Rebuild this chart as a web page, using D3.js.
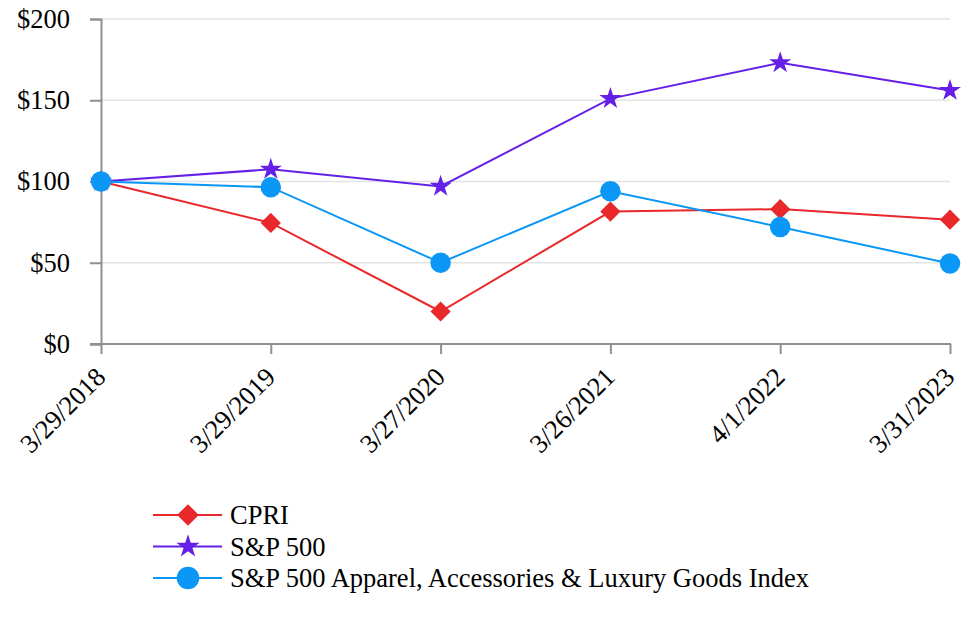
<!DOCTYPE html>
<html><head><meta charset="utf-8">
<script src="https://cdn.jsdelivr.net/npm/d3@7"></script>
<style>body{margin:0;background:#fff}svg{display:block}text{font-family:"Liberation Serif","Times New Roman",serif;fill:#000}</style>
</head><body><svg id="c" width="970" height="624"></svg>
<script>
const dates = ["3/29/2018","3/29/2019","3/27/2020","3/26/2021","4/1/2022","3/31/2023"];
const cpri = [100, 74.5, 20, 81.5, 83, 76.5];
const sp500 = [100, 107.5, 97, 151, 173, 156];
const apparel = [100, 96.5, 50, 94, 72, 49.5];
const seriesNames = ["CPRI","S&P 500","S&P 500 Apparel, Accessories & Luxury Goods Index"];
const yTicks = [0, 50, 100, 150, 200];

const colors = ["#e8282a", "#6420e6", "#0a97f5"];
const symbols = [d3.symbolDiamond2, d3.symbolStar, d3.symbolCircle];
const symSizes = [260, 150, 330];
const legSizes = [300, 170, 400];
const seriesData = [cpri, sp500, apparel];

const svg = d3.select("#c");
const x = d3.scalePoint().domain(dates).range([101, 950]);
const y = d3.scaleLinear().domain([0, 200]).range([344, 19]);

// gridlines
svg.append("g").selectAll("line").data(yTicks.filter(t => t > 0)).join("line")
  .attr("x1", 101).attr("x2", 950).attr("y1", d => y(d)).attr("y2", d => y(d))
  .attr("stroke", "#e3e3e3").attr("stroke-width", 1.5);

// y axis
const ya = svg.append("g").attr("transform", "translate(101,0)")
  .call(d3.axisLeft(y).tickValues(yTicks).tickFormat(d => "$" + d).tickSize(11).tickPadding(20));
ya.attr("font-size", null).attr("font-family", null);
ya.select(".domain").attr("stroke", "#8f8f8f").attr("stroke-width", 2);
ya.selectAll(".tick line").attr("stroke", "#8f8f8f").attr("stroke-width", 2);
ya.selectAll("text").style("font-size", "26.5px").style("font-family", '"Liberation Serif",serif');

// x axis
const xa = svg.append("g").attr("transform", "translate(0,344)")
  .call(d3.axisBottom(x).tickSize(10).tickSizeOuter(0));
xa.attr("font-size", null).attr("font-family", null);
xa.select(".domain").attr("stroke", "#8f8f8f").attr("stroke-width", 2).attr("d", "M90,0H951");
xa.selectAll(".tick line").attr("stroke", "#8f8f8f").attr("stroke-width", 2);
xa.selectAll("text").style("font-size", "26.5px").style("font-family", '"Liberation Serif",serif')
  .attr("text-anchor", "end").attr("dy", "0.35em")
  .attr("transform", "translate(-1,28) rotate(-45)").attr("x", 0).attr("y", 0);

// lines
const line = d3.line().x((d, i) => x(dates[i])).y(d => y(d));
seriesData.forEach((vals, s) => {
  svg.append("path").datum(vals).attr("d", line).attr("fill", "none")
    .attr("stroke", colors[s]).attr("stroke-width", 2);
});
seriesData.forEach((vals, s) => {
  svg.append("g").selectAll("path").data(vals).join("path")
    .attr("transform", (d, i) => `translate(${x(dates[i])},${y(d)})`)
    .attr("d", d3.symbol(symbols[s], symSizes[s])).attr("fill", colors[s]);
});

// legend
const lg = svg.append("g");
seriesNames.forEach((n, s) => {
  const yy = 515 + s * 31.5;
  lg.append("line").attr("x1", 153).attr("x2", 222).attr("y1", yy).attr("y2", yy)
    .attr("stroke", colors[s]).attr("stroke-width", 2);
  lg.append("path").attr("transform", `translate(188,${yy})`)
    .attr("d", d3.symbol(symbols[s], legSizes[s])).attr("fill", colors[s]);
  lg.append("text").attr("x", 230).attr("y", yy).attr("dy", "0.35em")
    .style("font-size", "26.5px").text(n);
});
</script></body></html>
